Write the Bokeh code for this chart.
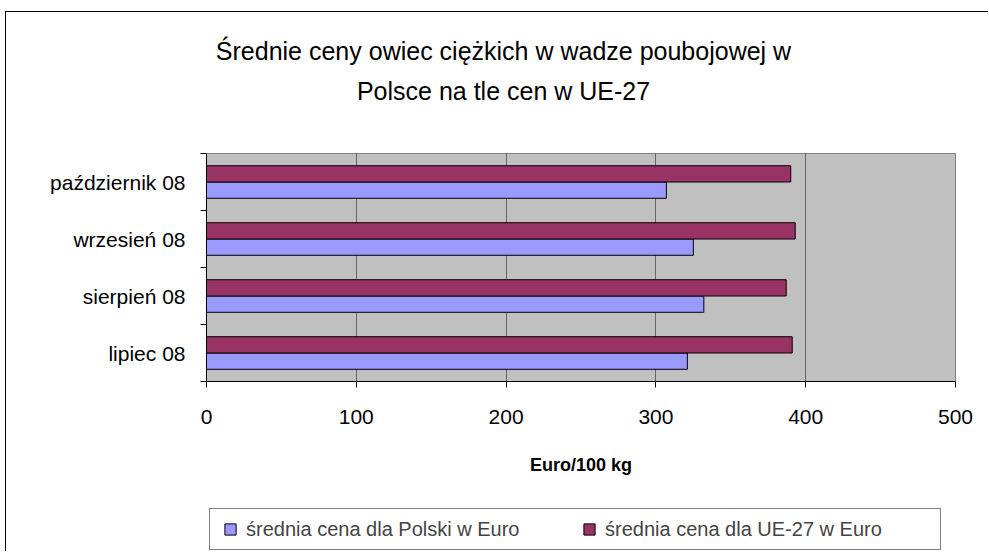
from bokeh.plotting import figure
from bokeh.layouts import column
from bokeh.models import (Range1d, FixedTicker, Label, Legend, LegendItem, ColumnDataSource)
from bokeh.transform import dodge
from bokeh.embed import file_html
from bokeh.resources import INLINE

# ---- data ----
months = ["lipiec 08", "sierpień 08", "wrzesień 08", "październik 08"]
pl_price = [321, 332, 325, 307]
eu_price = [391, 387, 393, 390]
x_ticks = [0, 100, 200, 300, 400, 500]
series_names = ["średnia cena dla Polski w Euro", "średnia cena dla UE-27 w Euro"]
series_colors = ["#9999FF", "#993366"]
title_lines = ["Średnie ceny owiec ciężkich w wadze poubojowej w", "Polsce na tle cen w UE-27"]
x_title = "Euro/100 kg"

FONT = "Liberation Sans"
centers = [i + 0.5 for i in range(len(months))]
bounds = [i for i in range(len(months) + 1)]
src = ColumnDataSource(dict(y=centers, pl=pl_price, eu=eu_price))
bar_h = 1 / 3.5


def bare_figure(height, y_range):
    f = figure(width=982, height=height, min_border=0, toolbar_location=None,
               x_range=Range1d(0, 1), y_range=y_range,
               x_axis_type=None, y_axis_type=None, output_backend="svg")
    f.outline_line_color = None
    f.background_fill_color = "white"
    f.border_fill_color = "white"
    f.xgrid.visible = False
    f.ygrid.visible = False
    return f


# ---- title strip ----
pt = bare_figure(141, Range1d(0, 1))
for txt, yb in zip(title_lines, [103, 63]):
    pt.add_layout(Label(x=297, y=yb, x_units="screen", y_units="screen", text=txt,
                        text_align="center", text_baseline="alphabetic",
                        text_font=FONT, text_font_size="25px", text_color="black"))

# ---- main chart ----
p = figure(frame_width=749, frame_height=228,
           min_border_left=200, min_border_right=33, min_border_top=0, min_border_bottom=110,
           x_range=Range1d(0, 500), y_range=Range1d(0, len(months)),
           output_backend="svg", toolbar_location=None)
p.border_fill_color = "white"
p.outline_line_color = "#808080"
p.outline_line_width = 1
p.background_fill_color = "#C0C0C0"

p.hbar(y=dodge("y", -bar_h / 2, range=p.y_range), left=0, right="pl", height=bar_h,
       source=src, fill_color=series_colors[0], line_color="black", line_width=1)
p.hbar(y=dodge("y", bar_h / 2, range=p.y_range), left=0, right="eu", height=bar_h,
       source=src, fill_color=series_colors[1], line_color="black", line_width=1)

p.ygrid.grid_line_color = None
p.xgrid.ticker = FixedTicker(ticks=x_ticks)
p.xgrid.grid_line_color = "#666666"
p.xgrid.grid_line_width = 1

xa = p.xaxis[0]
xa.ticker = FixedTicker(ticks=x_ticks)
xa.axis_line_color = "black"
xa.major_tick_line_color = "black"
xa.major_tick_out = 6
xa.major_tick_in = 0
xa.minor_tick_line_color = None
xa.major_label_text_font = FONT
xa.major_label_text_font_size = "21px"
xa.major_label_text_color = "black"
xa.major_label_standoff = 22
xa.axis_label = x_title
xa.axis_label_text_font = FONT
xa.axis_label_text_font_size = "18px"
xa.axis_label_text_font_style = "bold"
xa.axis_label_text_color = "black"
xa.axis_label_standoff = 28

ya = p.yaxis[0]
ya.ticker = FixedTicker(ticks=centers, minor_ticks=bounds)
ya.major_label_overrides = {c: m for c, m in zip(centers, months)}
ya.axis_line_color = "black"
ya.major_tick_line_color = None
ya.major_tick_out = 0
ya.major_tick_in = 0
ya.minor_tick_line_color = "black"
ya.minor_tick_out = 6
ya.minor_tick_in = 0
ya.major_label_text_font = FONT
ya.major_label_text_font_size = "21px"
ya.major_label_text_color = "black"
ya.major_label_standoff = 15

# ---- legend strip (series drawn out of its view, used only for the legend swatches) ----
pl_leg = bare_figure(60, Range1d(100, 101))
leg_r = [pl_leg.scatter(x="pl", y="y", marker="square", size=11, source=src,
                        fill_color=c, line_color="black", line_width=1)
         for c in series_colors]
legend = Legend(items=[LegendItem(label=n, renderers=[r]) for n, r in zip(series_names, leg_r)],
                orientation="horizontal", location=(3, 1),
                label_text_font=FONT, label_text_font_size="20px",
                glyph_width=28, glyph_height=28, label_standoff=2, spacing=0,
                label_width=329, label_height=21,
                padding=6, margin=0,
                border_line_color="black", border_line_width=1,
                background_fill_color="white", background_fill_alpha=1)
pl_leg.add_layout(legend, "center")

layout = column(pt, p, pl_leg, spacing=0)
layout.margin = (11, 0, 0, 5)
layout.styles = {"border-left": "1px solid black", "border-top": "1px solid black"}

open("out.html", "w").write(file_html(layout, INLINE))
